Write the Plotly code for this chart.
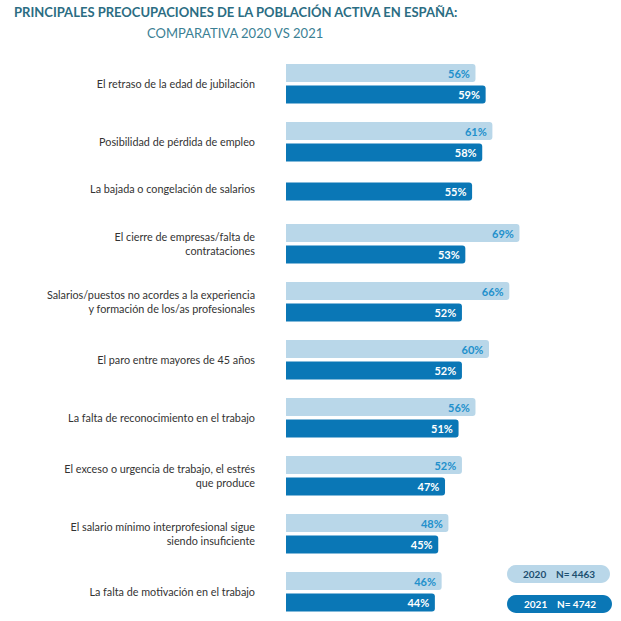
import plotly.graph_objects as go

# ---------------- data ----------------
categories = [
    "El retraso de la edad de jubilación",
    "Posibilidad de pérdida de empleo",
    "La bajada o congelación de salarios",
    "El cierre de empresas/falta de<br>contrataciones",
    "Salarios/puestos no acordes a la experiencia<br>y formación de los/as profesionales",
    "El paro entre mayores de 45 años",
    "La falta de reconocimiento en el trabajo",
    "El exceso o urgencia de trabajo, el estrés<br>que produce",
    "El salario mínimo interprofesional sigue<br>siendo insuficiente",
    "La falta de motivación en el trabajo",
]
values_2020 = [56, 61, None, 69, 66, 60, 56, 52, 48, 46]
values_2021 = [59, 58, 55, 53, 52, 52, 51, 47, 45, 44]
legend_years = ["2020", "2021"]
legend_n = ["4463", "4742"]

title_line1 = "PRINCIPALES PREOCUPACIONES DE LA POBLACIÓN ACTIVA EN ESPAÑA:"
title_line2 = "COMPARATIVA 2020 VS 2021"

# ---------------- layout constants ----------------
W = H = 621
OFF = 0                 # page offset of the figure (body margin removed below)
LEFT_PAGE = 286         # page x where the bars start
LEFT = LEFT_PAGE - OFF  # figure margin
PX_PER_PCT = 3.3835
XMAX = (W - LEFT) / PX_PER_PCT
FIRST = 73
PAIR = 21.5
ROW = 58
SINGLE_ROW = 44
SINGLE_OFF = 2.5
BAR_W = 18

LIGHT = "#b9d7e9"
DARK = "#0a77b6"
LIGHT_TXT = "#2290cc"
LABEL_COL = "#333333"
TITLE_COL = "#2b6d83"
FONT = "Lato"
PAD = "\u00a0"

# compute row positions
y20, x20, t20 = [], [], []
y21, x21, t21 = [], [], []
label_y = []
cursor = FIRST
for v0, v1 in zip(values_2020, values_2021):
    if v0 is not None:
        y20.append(cursor); x20.append(v0); t20.append(f"{v0}%{PAD}")
        y21.append(cursor + PAIR); x21.append(v1); t21.append(f"{v1}%{PAD}")
        label_y.append(cursor + PAIR / 2)
        cursor += ROW
    else:
        y21.append(cursor + SINGLE_OFF); x21.append(v1); t21.append(f"{v1}%{PAD}")
        label_y.append(cursor + SINGLE_OFF - 2)
        cursor += SINGLE_ROW

fig = go.Figure()
fig.add_trace(go.Bar(
    x=x20, y=y20, orientation="h", width=BAR_W,
    marker=dict(color=LIGHT, line=dict(width=0)),
    text=t20, textposition="inside", insidetextanchor="end",
    textfont=dict(family=FONT, size=11, color=LIGHT_TXT, weight="bold"),
    constraintext="none", hoverinfo="skip", showlegend=False,
))
fig.add_trace(go.Bar(
    x=x21, y=y21, orientation="h", width=BAR_W,
    marker=dict(color=DARK, line=dict(width=0)),
    text=t21, textposition="inside", insidetextanchor="end",
    textfont=dict(family=FONT, size=11, color="white", weight="bold"),
    constraintext="none", hoverinfo="skip", showlegend=False,
))


def px2x(px):
    return (px - LEFT_PAGE) / PX_PER_PCT


def px2paper(px):
    return (px - LEFT_PAGE) / (W - LEFT)


def pill(x0p, x1p, y0, y1, color):
    x0, x1 = px2x(x0p), px2x(x1p)
    r = (y1 - y0) / 2
    rx = px2x(x0p + r) - x0
    m = (y0 + y1) / 2
    k = 0.45
    path = (f"M {x0+rx},{y0} L {x1-rx},{y0} "
            f"C {x1-rx*k},{y0} {x1},{y0+r*k} {x1},{m} "
            f"C {x1},{y1-r*k} {x1-rx*k},{y1} {x1-rx},{y1} "
            f"L {x0+rx},{y1} "
            f"C {x0+rx*k},{y1} {x0},{y1-r*k} {x0},{m} "
            f"C {x0},{y0+r*k} {x0+rx*k},{y0} {x0+rx},{y0} Z")
    return dict(type="path", path=path, xref="x", yref="y",
                fillcolor=color, line=dict(width=0), layer="above")


shapes = [
    pill(507, 610, 565, 583, LIGHT),
    pill(507, 612, 595, 613, DARK),
]

annotations = [
    dict(text=f"<b>{title_line1}</b>", x=px2paper(235), y=12, xref="paper", yref="y",
         showarrow=False, xanchor="center", yanchor="middle",
         font=dict(family=FONT, size=13, color=TITLE_COL)),
    dict(text=title_line2, x=px2paper(235), y=33, xref="paper", yref="y",
         showarrow=False, xanchor="center", yanchor="middle",
         font=dict(family=FONT, size=13, color="#3b7f94")),
    dict(text=f"<b>{legend_years[0]}    N= {legend_n[0]}</b>", x=px2paper(559), y=574,
         xref="paper", yref="y", showarrow=False, xanchor="center", yanchor="middle",
         font=dict(family=FONT, size=10, color="#1d4f70")),
    dict(text=f"<b>{legend_years[1]}    N= {legend_n[1]}</b>", x=px2paper(560), y=604,
         xref="paper", yref="y", showarrow=False, xanchor="center", yanchor="middle",
         font=dict(family=FONT, size=10, color="white")),
]

fig.update_layout(
    width=W, height=H,
    margin=dict(l=LEFT, r=0, t=0, b=0, autoexpand=False),
    paper_bgcolor="white", plot_bgcolor="white",
    barmode="overlay", barcornerradius=3,
    xaxis=dict(range=[0, XMAX], visible=False, fixedrange=True),
    yaxis=dict(range=[H + OFF, OFF], tickmode="array", tickvals=label_y, ticktext=categories,
               showgrid=False, zeroline=False, showline=False, ticks="",
               ticklabelstandoff=30, automargin=False, fixedrange=True,
               tickfont=dict(family=FONT, size=10.8, color=LABEL_COL)),
    shapes=shapes, annotations=annotations,
    font=dict(family=FONT),
)

fig.write_html(
    "out.html",
    config={"displayModeBar": False},
    post_script="document.body.style.margin='0';document.body.style.padding='0';",
)
